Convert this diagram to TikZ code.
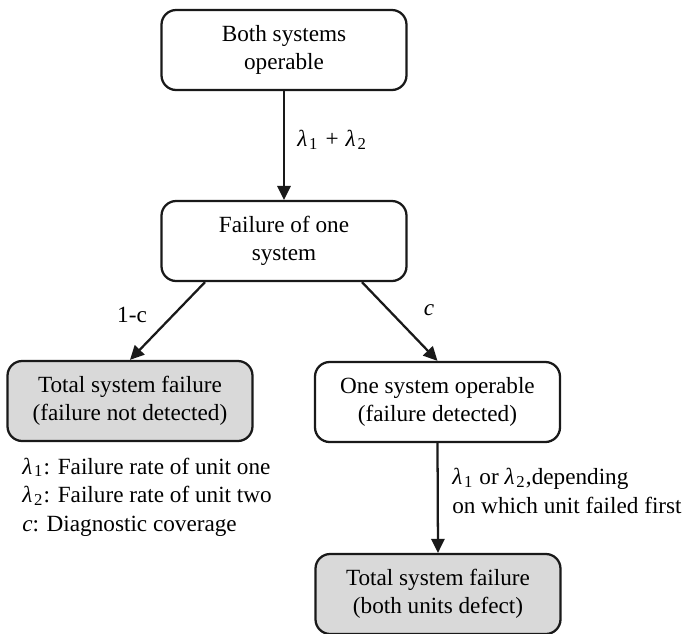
\documentclass[tikz,border=0pt]{standalone}
\usepackage[no-math]{fontspec}
\setmainfont{LiberationSerif}[Extension=.ttf,
  UprightFont=*-Regular, ItalicFont=*-Italic,
  BoldFont=*-Bold, BoldItalicFont=*-BoldItalic]
\usetikzlibrary{arrows.meta,calc}
% italic lambda with a small upright subscript, set in the text font
\newcommand{\lam}[1]{\textit{λ}\kern0.08em\raisebox{-0.25ex}{\fontsize{12.5}{14}\selectfont #1}\kern0.05em\relax}
\begin{document}
\begin{tikzpicture}[x=0.75pt,y=-0.75pt,
  font=\fontsize{17.4}{21.4}\selectfont,
  state/.style={draw=black!90, line width=1.7pt, rounded corners=11pt,
    minimum width=183.75pt, minimum height=60pt, align=center, inner sep=2pt},
  failed/.style={state, fill=black!15},
  flow/.style={draw=black!90, line width=1.7pt, -{Triangle[length=10.5pt,width=10pt]}},
  lbl/.style={inner sep=0pt, align=left}]
\useasboundingbox (0,0) rectangle (690,633);

\node[state]  (b1) at (284,50)    {Both systems\\operable};
\node[state]  (b2) at (284,241)   {Failure of one\\system};
\node[failed] (b3) at (130,401)   {Total system failure\\(failure not detected)};
\node[state]  (b4) at (437.5,402) {One system operable\\(failure detected)};
\node[failed] (b5) at (438,594)   {Total system failure\\(both units defect)};

\draw[flow] (b1.south) -- (b2.north);
\draw[flow] ($(b2.south)+(-79,0)$) -- (b3.north);
\draw[flow] ($(b2.south)+(78,0)$) -- (b4.north);
\draw[flow] (b4.south) -- (b5.north);

\node[lbl, anchor=west] (l1) at (297,140) {\lam{1}\hspace{0.3em}+\hspace{0.3em}\lam{2}};
\node[lbl] (l2) at (132,315) {1-c};
\node[lbl] (l3) at (429,310) {\textit{c}};
\node[lbl, anchor=west] (l4) at (452,491)
  {\lam{1} or \lam{2},depending\\on which unit failed first};
\node[lbl, anchor=west] (leg) at (22,497)
  {\lam{1}: Failure rate of unit one\\
   \lam{2}: Failure rate of unit two\\
   \textit{c}: Diagnostic coverage};
\end{tikzpicture}
\end{document}
